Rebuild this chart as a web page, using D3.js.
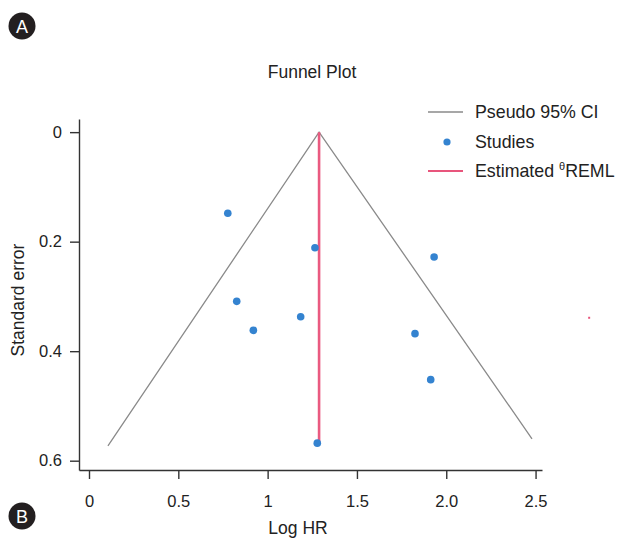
<!DOCTYPE html>
<html>
	<head>
		<title>Funnel Plot</title>
		<style>
			body,html
			{
				margin:0px;
				background:#fff;
			}
			text
			{
				font-family:'Liberation Sans', Arial, sans-serif;
				fill:#222;
			}
		</style>
		<script src='https://cdn.jsdelivr.net/npm/d3@7/dist/d3.min.js'></script>
	</head>
	<body>
	<svg width='617' height='538'></svg>
	<script>
		// studies: log HR vs standard error
		var logHR = [0.777, 1.265, 1.932, 0.827, 1.185, 0.920, 1.825, 1.913, 1.278];
		var stdErr = [0.148, 0.211, 0.228, 0.309, 0.337, 0.362, 0.368, 0.452, 0.568];

		// pseudo 95% CI funnel (left end, apex, right end)
		var funnelX = [0.106, 1.288, 2.480];
		var funnelY = [0.573, 0, 0.560];

		// REML estimate line
		var estX = 1.288;
		var estY = [0, 0.567];

		var xTicks = [0, 0.5, 1, 1.5, 2, 2.5];
		var xTickLabels = ['0', '0.5', '1', '1.5', '2.0', '2.5'];
		var yTicks = [0, 0.2, 0.4, 0.6];
		var yTickLabels = ['0', '0.2', '0.4', '0.6'];

		var legendLabels = ['Pseudo 95% CI', 'Studies', 'Estimated '];

		var svg = d3.select('svg');

		var x = d3.scaleLinear().domain([-0.056, 2.536]).range([79, 542]);
		var y = d3.scaleLinear().domain([-0.024, 0.617]).range([119, 470]);

		// axes
		var xAxis = d3.axisBottom(x)
			.tickValues(xTicks)
			.tickFormat(function(d, i){ return xTickLabels[i]; })
			.tickSize(9)
			.tickSizeOuter(0)
			.tickPadding(16);
		var gx = svg.append('g').attr('transform', 'translate(0,470)').call(xAxis);

		var yAxis = d3.axisLeft(y)
			.tickValues(yTicks)
			.tickFormat(function(d, i){ return yTickLabels[i]; })
			.tickSize(9)
			.tickSizeOuter(0)
			.tickPadding(8);
		var gy = svg.append('g').attr('transform', 'translate(79,0)').call(yAxis);

		[gx, gy].forEach(function(g){
			g.selectAll('path,line').attr('stroke', '#333').attr('stroke-width', 1.4);
			g.selectAll('text').style('font-size', '16.5px').attr('fill', '#222')
				.style('font-family', "'Liberation Sans', Arial, sans-serif");
		});

		// funnel
		var line = d3.line()
			.x(function(d){ return x(d[0]); })
			.y(function(d){ return y(d[1]); });
		svg.append('path')
			.datum(d3.zip(funnelX, funnelY))
			.attr('d', line)
			.attr('fill', 'none')
			.attr('stroke', '#8a8a8a')
			.attr('stroke-width', 1.3);

		// estimate line
		svg.append('line')
			.attr('x1', x(estX)).attr('x2', x(estX))
			.attr('y1', y(estY[0])).attr('y2', y(estY[1]))
			.attr('stroke', '#ea5a80')
			.attr('stroke-width', 2.6);

		// studies
		svg.selectAll('circle.study')
			.data(d3.zip(logHR, stdErr))
			.enter()
			.append('circle')
			.attr('class', 'study')
			.attr('cx', function(d){ return x(d[0]); })
			.attr('cy', function(d){ return y(d[1]); })
			.attr('r', 3.8)
			.attr('fill', '#3483d0');

		// stray red mark right of the plot
		svg.append('rect')
			.attr('x', x(2.8) - 1).attr('y', y(0.339) - 1)
			.attr('width', 2).attr('height', 2)
			.attr('fill', '#e8557c');

		// title and axis labels
		svg.append('text').attr('x', 312).attr('y', 78).attr('text-anchor', 'middle')
			.style('font-size', '17.5px').text('Funnel Plot');
		svg.append('text').attr('x', 298).attr('y', 534).attr('text-anchor', 'middle')
			.style('font-size', '17.5px').text('Log HR');
		svg.append('text').attr('transform', 'translate(24,300) rotate(-90)')
			.attr('text-anchor', 'middle').style('font-size', '17.5px').text('Standard error');

		// legend
		var lg = svg.append('g');
		lg.append('line').attr('x1', 428).attr('x2', 463).attr('y1', 112).attr('y2', 112)
			.attr('stroke', '#8a8a8a').attr('stroke-width', 1.3);
		lg.append('circle').attr('cx', 447).attr('cy', 142).attr('r', 3.6).attr('fill', '#3483d0');
		lg.append('line').attr('x1', 428).attr('x2', 463).attr('y1', 171).attr('y2', 171)
			.attr('stroke', '#e8557c').attr('stroke-width', 2);
		var ly = [118, 148, 177];
		legendLabels.forEach(function(t, i){
			var tx = lg.append('text').attr('x', 475).attr('y', ly[i]).style('font-size', '17.8px').text(t);
			if(i == 2)
			{
				tx.append('tspan').attr('dy', -7).style('font-size', '11px').text('θ');
				tx.append('tspan').attr('dy', 7).text('REML');
			}
		});

		// panel badges
		[['A', 22, 26], ['B', 22, 516]].forEach(function(b){
			svg.append('circle').attr('cx', b[1]).attr('cy', b[2]).attr('r', 13.5).attr('fill', '#231f20');
			svg.append('text').attr('x', b[1]).attr('y', b[2] + 6.5).attr('text-anchor', 'middle')
				.style('font-size', '18px').style('fill', '#fff').text(b[0]);
		});
	</script>
	</body>
</html>
